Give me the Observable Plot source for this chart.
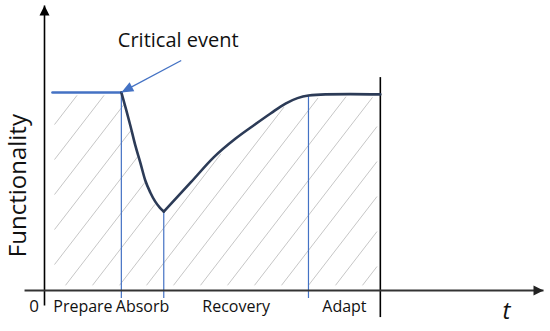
<!DOCTYPE html>
<html>
<head>
<meta charset="utf-8">
<script src="https://cdn.jsdelivr.net/npm/d3@7"></script>
<script src="https://cdn.jsdelivr.net/npm/@observablehq/plot@0.6"></script>
<style>
  html, body { margin: 0; padding: 0; background: #fff; }
  #chart svg { display: block; }
</style>
</head>
<body>
<div id="chart"></div>
<script>
// ---- data ----
const phaseNames = ["Prepare", "Absorb", "Recovery", "Adapt"];
const phaseBounds = [0, 15.4, 23.9, 52.9, 67.3];   // time at phase boundaries
const prepareT = [1.6, 15.4];
const prepareF = [69.5, 69.5];
const fallT = [15.4, 16.4, 17.2, 18.2, 19.2, 20.2, 21.2, 22.2, 23.1, 23.9];
const fallF = [69.5, 63.2, 57.9, 50.9, 44.9, 38.6, 34.4, 31.2, 29.1, 27.7];
const riseT = [23.9, 29.3, 33.9, 38.3, 41.9, 45.3, 48.3, 50.7, 52.9, 56.3, 61.3, 67.3];
const riseF = [27.7, 37.9, 46.7, 53.3, 57.9, 62.1, 65.6, 67.5, 68.4, 68.8, 68.9, 68.8];
const eventLabel = "Critical event";
const eventLabelPos = [26.8, 87.6];
const eventArrowFrom = [27.4, 80.7];
const yTitle = "Functionality";
const xTitle = "t";
const originLabel = "0";

// ---- scales (shared with Plot) ----
const xDomain = [0, 100], xRange = [44, 543];
const yDomain = [0, 100], yRange = [290, 5];
const xs = d3.scaleLinear(xDomain, xRange);
const ys = d3.scaleLinear(yDomain, yRange);

// ---- build tables ----
const seg = (name, T, F) => T.map((t, i) => ({series: name, t, f: F[i]}));
const prepare = seg("prepare", prepareT, prepareF);
const fall = seg("fall", fallT, fallF);
const rise = seg("rise", riseT, riseF);
const all = [...prepare, ...fall, ...rise];
const fAt = (t) => { const p = all.find(d => Math.abs(d.t - t) < 1e-9); return p ? p.f : 0; };
const markerT = phaseBounds.slice(1, 4);
const phaseLabels = phaseNames.map((n, i) => ({name: n, t: (phaseBounds[i] + phaseBounds[i + 1]) / 2}));
const endT = phaseBounds[4];
const tStart = prepareT[0];

// curve lookup (linear interpolation over the profile)
const profile = all.filter((d, i, a) => i === 0 || d.t !== a[i - 1].t);
function fInterp(t) {
  for (let i = 1; i < profile.length; i++) {
    const a = profile[i - 1], b = profile[i];
    if (t <= b.t) return a.f + (b.f - a.f) * (t - a.t) / (b.t - a.t);
  }
  return profile[profile.length - 1].f;
}

// hatch segments: diagonal lines clipped to the region under the curve
const hatch = [];
{
  const step = 27, rise_ = 35, gapB = 5, gapT = 2.5, gapL = 2, gapR = 3;
  const pxL = xs(tStart) + gapL, pxR = xs(endT) - gapR;
  for (let px0 = 7 - 27 * 10; px0 < pxR; px0 += step) {
    let run = null;
    for (let u = 0; u < 330; u += 0.5) {
      const px = px0 + u, py = ys(0) - u * rise_ / step;
      const t = xs.invert(px), f = ys.invert(py);
      const inside = px >= pxL && px <= pxR && py <= ys(0) - gapB && py >= ys(fInterp(t)) + gapT;
      if (inside) {
        if (!run) run = {x1: t, y1: f};
        run.x2 = t; run.y2 = f;
      } else if (run) { hatch.push(run); run = null; }
    }
    if (run) hatch.push(run);
  }
}

// arrowhead symbol: tip at the origin, pointing up
const arrowHead = (l, w) => ({draw(ctx) { ctx.moveTo(0, 0); ctx.lineTo(w / 2, l); ctx.lineTo(-w / 2, l); ctx.closePath(); }});
const evDx = xs(fallT[0]) - xs(eventArrowFrom[0]);
const evDy = ys(fallF[0]) - ys(eventArrowFrom[1]);
const evAngle = Math.atan2(evDx, -evDy) * 180 / Math.PI;

const blue = "#4472C4";
const navy = "#2C3B57";
const font = "Open Sans";

const chart = Plot.plot({
  width: 550,
  height: 331,
  margin: 0,
  x: {domain: xDomain, range: xRange, axis: null},
  y: {domain: yDomain, range: yRange, axis: null},
  style: {background: "#fff", fontFamily: font},
  marks: [
    // hatching under the curve
    Plot.link(hatch, {x1: "x1", y1: "y1", x2: "x2", y2: "y2", stroke: "#c6c6c6", strokeWidth: 1}),
    // phase boundary lines
    Plot.ruleX(markerT, {x: d => d, y1: -2.8, y2: d => fAt(d), stroke: blue, strokeWidth: 1.2}),
    Plot.ruleX([endT], {x: d => d, y1: -9.5, y2: 74.7, stroke: "#000", strokeWidth: 1.6}),
    // axes with arrows
    Plot.link([{x1: 0, y1: -5.3, x2: 0, y2: 100}], {x1: "x1", y1: "y1", x2: "x2", y2: "y2", stroke: "#000", strokeWidth: 1.6}),
    Plot.link([{x1: -4, y1: 0, x2: 100, y2: 0}], {x1: "x1", y1: "y1", x2: "x2", y2: "y2", stroke: "#333", strokeWidth: 1.8}),
    Plot.dot([{x: 0, y: 100}], {x: "x", y: "y", r: 5, symbol: arrowHead(10, 10), fill: "#000", rotate: 0}),
    Plot.dot([{x: 100, y: 0}], {x: "x", y: "y", r: 5, symbol: arrowHead(10, 10), fill: "#222", rotate: 90}),
    // curves
    Plot.line(prepare, {x: "t", y: "f", stroke: blue, strokeWidth: 2.6}),
    Plot.line(fall, {x: "t", y: "f", curve: "monotone-x", stroke: navy, strokeWidth: 2.6}),
    Plot.line(rise, {x: "t", y: "f", curve: "monotone-x", stroke: navy, strokeWidth: 2.6}),
    // critical event annotation
    Plot.link([{x1: eventArrowFrom[0], y1: eventArrowFrom[1], x2: fallT[0], y2: fallF[0]}], {x1: "x1", y1: "y1", x2: "x2", y2: "y2", stroke: blue, strokeWidth: 1.3}),
    Plot.dot([{x: fallT[0], y: fallF[0]}], {x: "x", y: "y", r: 5, symbol: arrowHead(12, 10), fill: blue, rotate: evAngle}),
    Plot.text([eventLabel], {x: eventLabelPos[0], y: eventLabelPos[1], text: d => d, fontSize: 20, fill: "#111", fontFamily: font}),
    // labels
    Plot.text(phaseLabels, {x: "t", y: 0, dy: 16, text: "name", fontSize: 16, fill: "#111", fontFamily: font}),
    Plot.text([originLabel], {x: 0, y: 0, dx: -10.5, dy: 16, text: d => d, fontSize: 17, fill: "#111", fontFamily: font}),
    Plot.text([xTitle], {x: 92.6, y: 0, dy: 21, text: d => d, fontSize: 24, fontStyle: "italic", fill: "#111", fontFamily: font}),
    Plot.text([yTitle], {x: 0, y: 36.8, dx: -26, rotate: -90, text: d => d, fontSize: 24, fill: "#111", fontFamily: font})
  ]
});

document.getElementById("chart").appendChild(chart);
</script>
</body>
</html>
